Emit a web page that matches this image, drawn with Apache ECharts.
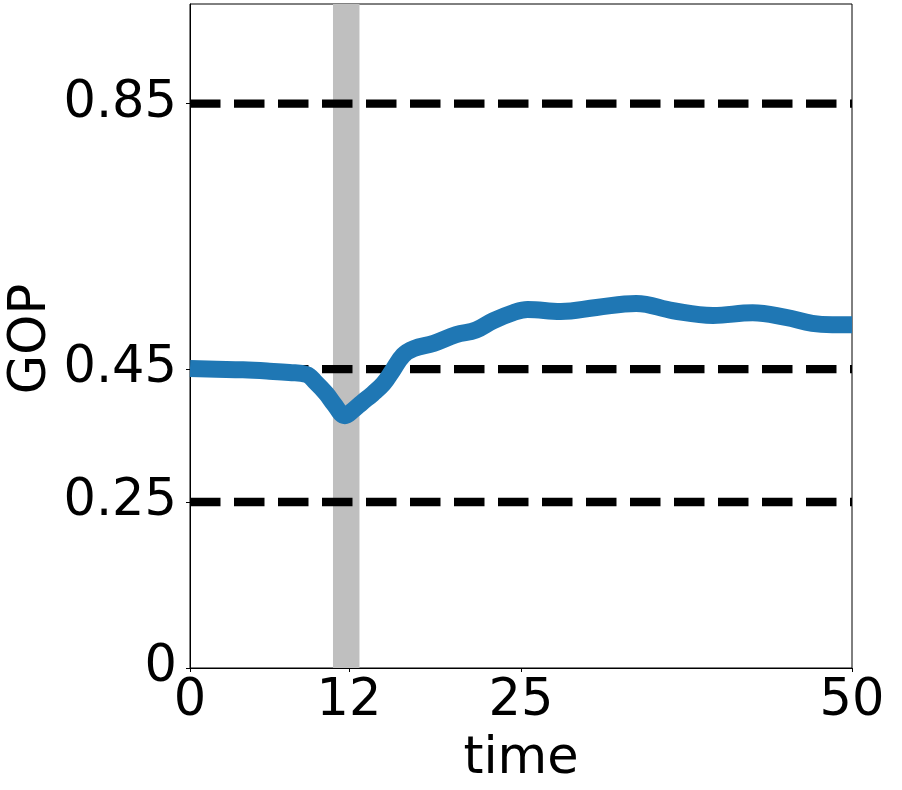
<!DOCTYPE html>
<html>
<head>
<meta charset="utf-8">
<script src="https://cdn.jsdelivr.net/npm/echarts@6/dist/echarts.min.js"></script>
<style>
  html, body { margin: 0; padding: 0; background: #fff; }
  #chart { width: 902px; height: 790px; }
</style>
</head>
<body>
<div id="chart"></div>
<script>
// GOP over time
var time = [0, 2, 4, 6, 7.5, 8.8, 9.5, 10.3, 10.9, 11.7, 12.3, 13, 13.8, 14.6, 15.3, 16.1, 16.9, 18.4, 20.1, 21.6, 22.9, 24.4, 25.5, 28, 30.7, 33.7, 36.5, 39.5, 42.5, 45, 47, 48.5, 50];
var gop = [0.451, 0.450, 0.449, 0.447, 0.445, 0.442, 0.430, 0.413, 0.397, 0.380, 0.388, 0.400, 0.413, 0.428, 0.448, 0.471, 0.481, 0.489, 0.502, 0.509, 0.523, 0.535, 0.540, 0.537, 0.543, 0.549, 0.538, 0.531, 0.535, 0.528, 0.519, 0.517, 0.517];
var thresholds = [0.85, 0.45, 0.25];
var band = [10.8, 12.8];
var xTicks = [0, 12, 25, 50];
var yTicks = [0, 0.25, 0.45, 0.85];

var font = "DejaVu Sans";
var myChart = echarts.init(document.getElementById("chart"));

var series = [];
thresholds.forEach(function (v) {
  series.push({
    type: "line",
    data: [[0, v], [50, v]],
    symbol: "none",
    silent: true,
    z: 3,
    lineStyle: { color: "#000", width: 8.3, type: [30.5, 13.5] }
  });
});
series.push({
  name: "GOP",
  type: "line",
  data: time.map(function (t, i) { return [t, gop[i]]; }),
  symbol: "none",
  smooth: 0.4,
  z: 5,
  lineStyle: { color: "#1f77b4", width: 17, cap: "butt", join: "round" },
  markArea: {
    silent: true,
    z: 1,
    itemStyle: { color: "#bfbfbf" },
    data: [[{ xAxis: band[0] }, { xAxis: band[1] }]]
  }
});

var option = {
  animation: false,
  grid: {
    left: 190, right: 50, top: 4, bottom: 122,
    outerBoundsMode: "none",
    containLabel: false,
    show: true, borderColor: "#000", borderWidth: 1
  },
  // y axis title
  graphic: [{
    type: "text",
    x: 32, y: 339,
    rotation: Math.PI / 2,
    style: {
      text: "GOP",
      font: "51px 'DejaVu Sans'",
      fill: "#000",
      align: "center",
      verticalAlign: "middle"
    }
  }],
  xAxis: {
    type: "value", min: 0, max: 50,
    name: "time", nameLocation: "middle", nameGap: 66,
    nameMoveOverlap: false,
    nameTextStyle: { fontSize: 51, color: "#000", fontFamily: font },
    axisLine: { lineStyle: { color: "#000", width: 1 } },
    axisTick: { show: true, length: 4, customValues: xTicks, lineStyle: { color: "#000" } },
    axisLabel: { customValues: xTicks, fontSize: 51, color: "#000", fontFamily: font, margin: 8 },
    splitLine: { show: false }
  },
  yAxis: {
    type: "value", min: 0, max: 1,
    axisLine: { show: true, lineStyle: { color: "#000", width: 1 } },
    axisTick: { show: true, length: 4, customValues: yTicks, lineStyle: { color: "#000" } },
    axisLabel: { customValues: yTicks, fontSize: 51, color: "#000", fontFamily: font, margin: 13 },
    splitLine: { show: false }
  },
  series: series
};

myChart.setOption(option);
</script>
</body>
</html>
